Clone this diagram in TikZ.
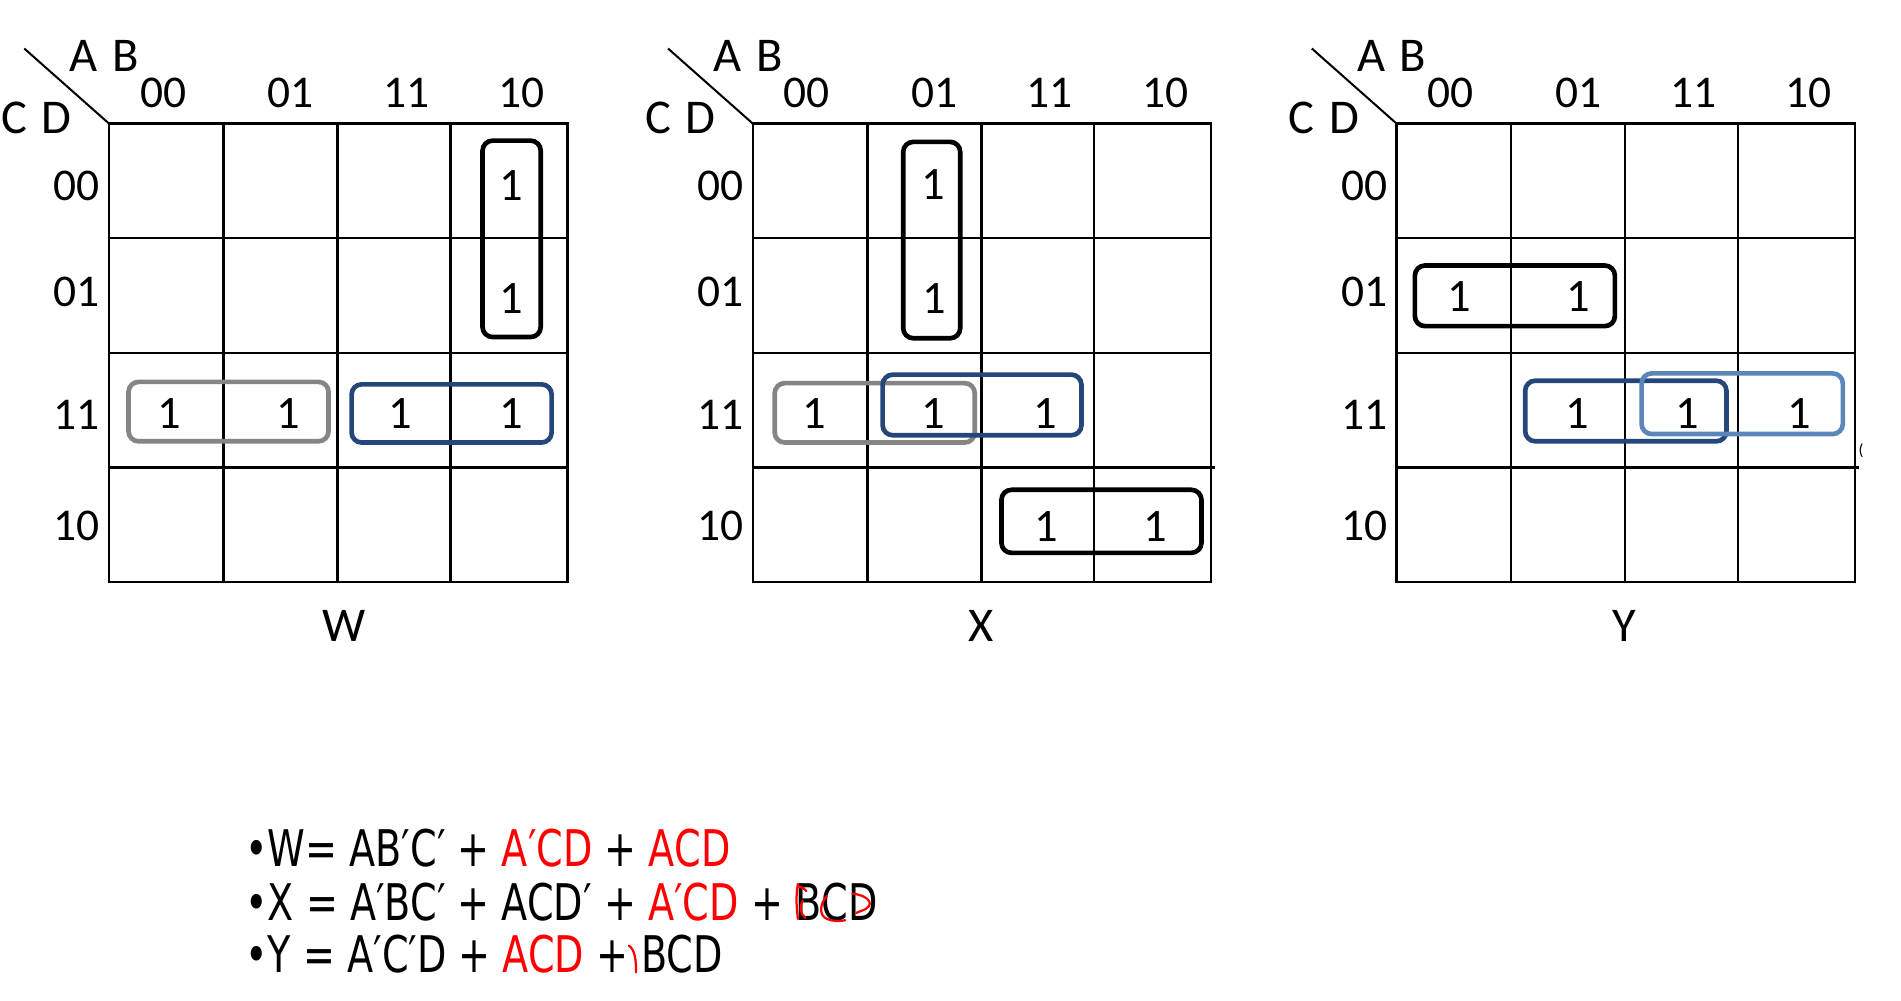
\documentclass[tikz,border=0pt]{standalone}
\usepackage{fontspec}
\setmainfont{Carlito}
\newfontfamily\eqfont[FakeStretch=0.755]{DejaVu Sans}
\definecolor{grpgray}{HTML}{858585}
\definecolor{grpblue}{HTML}{24467A}
\definecolor{grplight}{HTML}{5A86BA}
\definecolor{eqred}{HTML}{FF0000}
\tikzset{
  gridline/.style={line width=1.2pt},
  hdr/.style={font=\fontsize{22.5}{22.5}\selectfont, inner sep=0pt},
  varlab/.style={font=\fontsize{24}{24}\selectfont, inner sep=0pt},
  one/.style={font=\fontsize{23}{23}\selectfont, inner sep=0pt},
  grp/.style={rounded corners=5pt, line width=2.3pt},
  eq/.style={font=\eqfont\fontsize{25}{25}\selectfont, inner sep=0pt, anchor=base west},
  scrib/.style={eqred, line width=1.1pt, line cap=round},
}
\begin{document}
\begin{tikzpicture}[x=0.6pt, y=-0.6pt]
\useasboundingbox (0,0) rectangle (1568,825);
\fill[white] (0,0) rectangle (1568,825);

\foreach \k/\p in {0/w,1/x,2/y}{
  \begin{scope}[shift={(531*\k,0)}]
    \draw[gridline] (90,102) rectangle (468,480);
    \draw[gridline] (90,196.5) -- (468,196.5);
    \draw[gridline] (90,291) -- (468,291);
    \draw[gridline] (90,385.5) -- (\ifnum\k=0 468\else 471\fi,385.5);
    \draw[gridline] (184.5,102) -- (184.5,480);
    \draw[gridline] (278.5,102) -- (278.5,480);
    \draw[gridline] (371.5,102) -- (371.5,480);
    \draw[line width=1pt] (20,40) -- (90,102);
    \node[varlab] (\p-ab) at (86,46) {A\hspace{0.3em}B};
    \node[varlab] (\p-cd) at (30,97) {C\hspace{0.3em}D};
    \node[hdr] (\p-c1) at (134.5,77) {00};
    \node[hdr] (\p-c2) at (240,77) {01};
    \node[hdr] (\p-c3) at (335,77) {11};
    \node[hdr] (\p-c4) at (430,77) {10};
    \node[hdr] (\p-r1) at (63.5,153) {00};
    \node[hdr] (\p-r2) at (63.5,241) {01};
    \node[hdr] (\p-r3) at (63.5,342) {11};
    \node[hdr] (\p-r4) at (63.5,434) {10};
  \end{scope}
}

\node[varlab] (labW) at (284,516) {W};
\node[varlab] (labX) at (809,516) {X};
\node[varlab] (labY) at (1340,516) {Y};

% ---- Map W ----
\draw[grp, black] (398,116) rectangle (446,278);
\draw[grp, grpgray] (106,315) rectangle (271,364);
\draw[grp, grpblue] (290,317) rectangle (455,365);
\node[one] (w1) at (422,153) {1};
\node[one] (w2) at (422,246) {1};
\node[one] (w3) at (140,341) {1};
\node[one] (w4) at (238,341) {1};
\node[one] (w5) at (330,341) {1};
\node[one] (w6) at (422,341) {1};

% ---- Map X ----
\draw[grp, black] (745,117) rectangle (792,279);
\draw[grp, grpgray] (639,316) rectangle (804,365);
\draw[grp, grpblue] (728,309) rectangle (892,359);
\draw[grp, black] (826,404) rectangle (991,456);
\node[one] (x1) at (770,152) {1};
\node[one] (x2) at (771,246) {1};
\node[one] (x3) at (672,341) {1};
\node[one] (x4) at (770,341) {1};
\node[one] (x5) at (862,341) {1};
\node[one] (x6) at (863,434) {1};
\node[one] (x7) at (953,434) {1};

% ---- Map Y ----
\draw[grp, black] (1167,219) rectangle (1332,269);
\draw[grp, grpblue] (1258,314) rectangle (1424,364);
\draw[grp, grplight] (1354,308) rectangle (1520,358);
\node[one] (y1) at (1204,245) {1};
\node[one] (y2) at (1302,245) {1};
\node[one] (y3) at (1301,341) {1};
\node[one] (y4) at (1392,341) {1};
\node[one] (y5) at (1484,341) {1};
\node[font=\fontsize{8}{8}\selectfont, inner sep=0pt] (paren) at (1535,372) {(};

% ---- Equations ----
\node[eq] (eqW) at (202,715) {•W= AB′C′ + {\color{eqred}A′CD} + {\color{eqred}ACD}};
\node[eq] (eqX) at (202,759) {•X = A′BC′ + ACD′ + {\color{eqred}A′CD} +\ \mbox{}};
\node[eq] (eqXb) at (eqX.base east) {BCD};
\node[eq] (eqY) at (202,802) {•Y = A′C′D + {\color{eqred}ACD} +\ \mbox{}};
\node[eq] (eqYb) at (eqY.base east) {BCD};

% red scribbles over the last terms
\begin{scope}[shift={(eqXb.base west)}]
\draw[scrib] (2,-30) .. controls (0,-20) and (1,-9) .. (2,-1);
\draw[scrib] (2,-28) .. controls (6,-27) and (8,-26) .. (9,-24);
\draw[scrib] (6,-16) .. controls (3,-12) and (4,-5) .. (8,-2);
\draw[scrib] (26,-20) .. controls (20,-14) and (19,-4) .. (26,-1) .. controls (31,1) and (37,1) .. (41,0);
\draw[scrib] (47,-22) .. controls (62,-20) and (66,-12) .. (55,-8) -- (50,-6);
\end{scope}
\begin{scope}[shift={(eqYb.base west)}]
\draw[scrib] (-10,-22) .. controls (-5,-19) and (-4,-10) .. (-4,0);
\end{scope}
\end{tikzpicture}
\end{document}
